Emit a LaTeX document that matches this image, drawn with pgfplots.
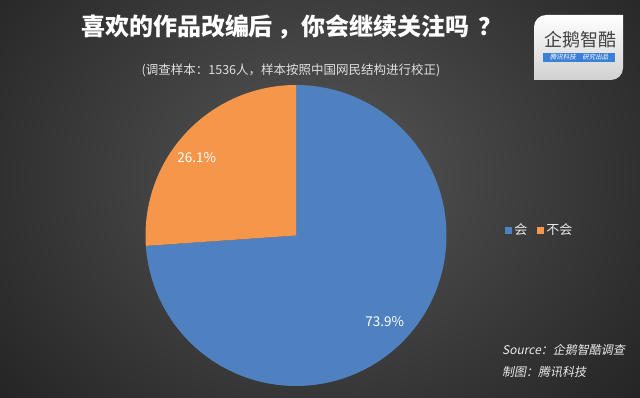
\documentclass[border=0pt]{standalone}
\usepackage{fontspec}
\setmainfont{Noto Sans CJK SC}
\newfontfamily\slantfont[FakeSlant=0.2]{Noto Sans CJK SC}
\usepackage{pgfplots}
\pgfplotsset{compat=1.18}
\definecolor{pieblue}{HTML}{4F81C0}
\definecolor{pieorange}{HTML}{F5964A}
\definecolor{bginner}{HTML}{565656}
\definecolor{bgouter}{HTML}{161616}
\definecolor{logoblue}{HTML}{3B7FD6}
% values (percent)
\def\valA{73.9}
\def\valB{26.1}
\begin{document}
\begin{tikzpicture}[x=1pt,y=1pt]
\begin{scope}
\clip (0,0) rectangle (640,397);
\shade[inner color=bginner, outer color=bgouter] (-220,-230) rectangle (860,670);
\end{scope}
\path[use as bounding box] (0,0) rectangle (640,397);
% title
\node[text=white, font=\bfseries\fontsize{24}{28}\selectfont] at (292,370) {喜欢的作品改编后\hspace{5pt}，你会继续关注吗\hspace{9pt}？};
\node[text=white!88!black, font=\fontsize{12.5}{14}\selectfont] at (291,327) {(调查样本：1536人，样本按照中国网民结构进行校正)};
% logo
\shade[top color=white, bottom color=white!82!black] (534,317) -- (534,370) arc(180:90:12) -- (623,382) -- (623,329) arc(0:-90:12) -- cycle;
\node[text=black!75, font=\fontsize{18}{20}\selectfont, inner sep=0pt] at (580,357) {企鹅智酷};
\fill[logoblue] (543,335) rectangle (615,344);
\node[text=white, font=\slantfont\fontsize{6.5}{7}\selectfont, inner sep=0pt] at (579,339.5) {腾讯科技\quad 研究出品};
% source
\node[anchor=west, inner sep=0pt, text=white!92!black, font=\slantfont\fontsize{12}{14}\selectfont] at (502,47) {Source：企鹅智酷调查};
\node[anchor=west, inner sep=0pt, text=white!92!black, font=\slantfont\fontsize{12}{14}\selectfont] at (502,25) {制图：腾讯科技};
\begin{axis}[
  at={(296pt,161.5pt)}, anchor=origin,
  width=301pt, height=301pt, scale only axis,
  xmin=-1, xmax=1, ymin=-1, ymax=1,
  hide axis, clip=false,
  legend columns=2,
  legend style={at={(1.195,0.518)}, anchor=west, draw=none, fill=none,
    text=white!92!black, font=\fontsize{13}{15}\selectfont, inner sep=0pt,
    /tikz/every even column/.append style={column sep=8pt}},
  legend image code/.code={\fill[#1] (0pt,-3.5pt) rectangle (7pt,3.5pt);},
]
\addplot[fill=pieblue, draw=none, domain=90-3.6*\valA:90, samples=300, variable=\t]
  ({cos(\t)},{sin(\t)}) -- (axis cs:0,0) -- cycle;
\addlegendentry{会}
\addplot[fill=pieorange, draw=none, domain=90:90+3.6*\valB, samples=150, variable=\t]
  ({cos(\t)},{sin(\t)}) -- (axis cs:0,0) -- cycle;
\addlegendentry{不会}
\node[text=white, font=\fontsize{13.5}{15}\selectfont] at (axis cs:-0.66,0.52) {26.1\%};
\node[text=white, font=\fontsize{13.5}{15}\selectfont] at (axis cs:0.59,-0.57) {73.9\%};
\end{axis}
\end{tikzpicture}
\end{document}
